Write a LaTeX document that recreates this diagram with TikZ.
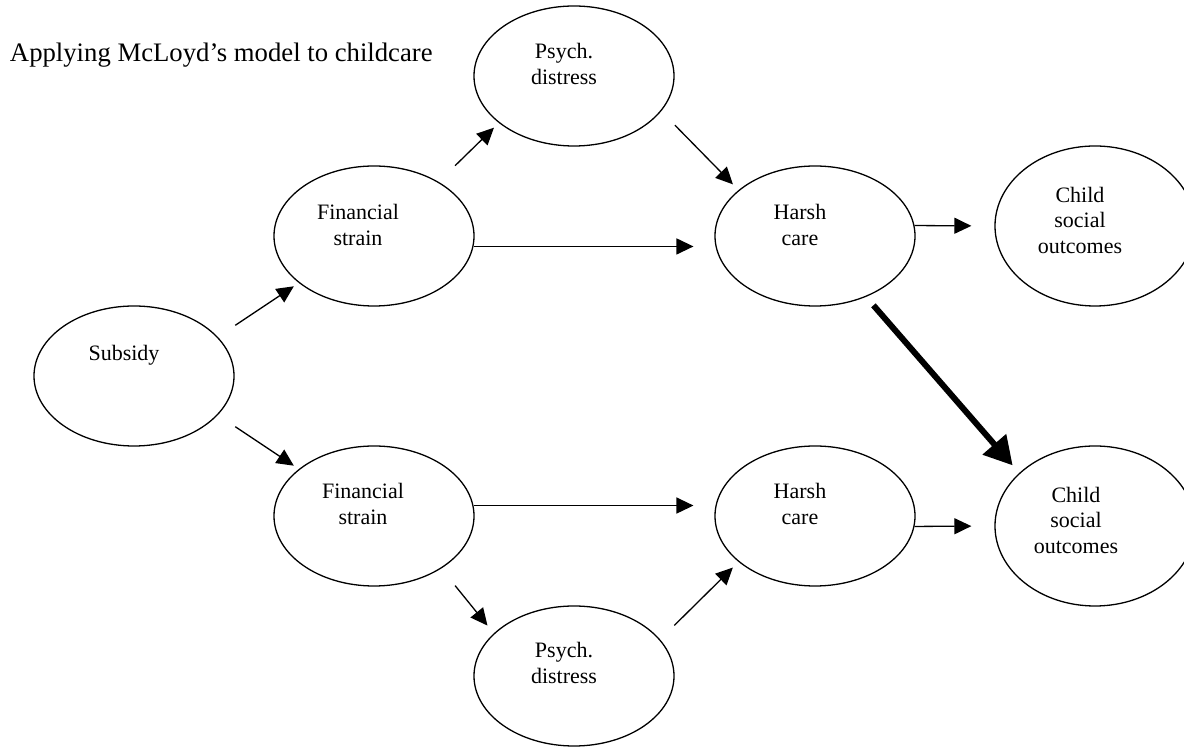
\documentclass[tikz,border=0pt]{standalone}
\usepackage{fontspec}
\setmainfont{Liberation Serif}
\usetikzlibrary{arrows.meta,shapes.geometric}

\begin{document}
\begin{tikzpicture}[x=0.5pt,y=-0.5pt,>={Triangle[length=8.5pt,width=8pt]},line join=round,
  box/.style={ellipse,draw,line width=0.65pt,minimum width=100pt,minimum height=70pt,inner sep=0pt},
  kid/.style={box,minimum height=80pt},
  txt/.style={align=center,inner sep=0pt,font=\fontsize{11pt}{12.75pt}\selectfont},
  arr/.style={->,line width=0.65pt},
  big/.style={-{Triangle[length=14pt,width=15pt]},line width=3pt}]
  \useasboundingbox (0,0) rectangle (1184,747);
  \node[anchor=base west,inner sep=0pt,font=\fontsize{13.35pt}{16pt}\selectfont] (T) at (9.6,61.7) {Applying McLoyd’s model to childcare};
  \node[box] (S) at (134,376) {};
  \node[box] (F1) at (374,236) {};
  \node[box] (P1) at (574,76) {};
  \node[box] (H1) at (815,236) {};
  \node[kid] (C1) at (1095,226) {};
  \node[box] (F2) at (374,516) {};
  \node[box] (P2) at (574,676) {};
  \node[box] (H2) at (815,516) {};
  \node[kid] (C2) at (1095,526) {};
  \node[txt] (St) at (124,355) {Subsidy};
  \node[txt] (F1t) at (358,225) {Financial\\strain};
  \node[txt] (P1t) at (564,64) {Psych.\\distress};
  \node[txt] (H1t) at (800,225) {Harsh\\care};
  \node[txt] (C1t) at (1080,220) {Child\\social\\outcomes};
  \node[txt] (F2t) at (363,504) {Financial\\strain};
  \node[txt] (P2t) at (564,663) {Psych.\\distress};
  \node[txt] (H2t) at (800,504) {Harsh\\care};
  \node[txt] (C2t) at (1076,520) {Child\\social\\outcomes};
  \draw[arr,shorten <=10.5pt,shorten >=3pt] (S.25) -- (F1.-148);
  \draw[arr,shorten <=10.5pt,shorten >=3pt] (S.-25) -- (F2.148);
  \draw[arr,shorten <=11.5pt,shorten >=3.4pt] (F1.40) -- (P1.-148);
  \draw[arr,shorten >=11pt] (F1.-6) -- (H1.-174);
  \draw[arr,shorten <=9.75pt,shorten >=4pt] (P1.-22) -- (H1.149);
  \draw[arr,shorten >=11.5pt] (H1.6) -- (C1.west);
  \draw[big,shorten <=5.6pt,shorten >=5pt] (H1.-50) -- (C2.145);
  \draw[arr,shorten <=11pt,shorten >=5pt] (F2.-38) -- (P2.152);
  \draw[arr,shorten >=11pt] (F2.6) -- (H2.174);
  \draw[arr,shorten <=10pt,shorten >=4pt] (P2.23) -- (H2.-149);
  \draw[arr,shorten >=11.5pt] (H2.-6) -- (C2.west);
\end{tikzpicture}
\end{document}
